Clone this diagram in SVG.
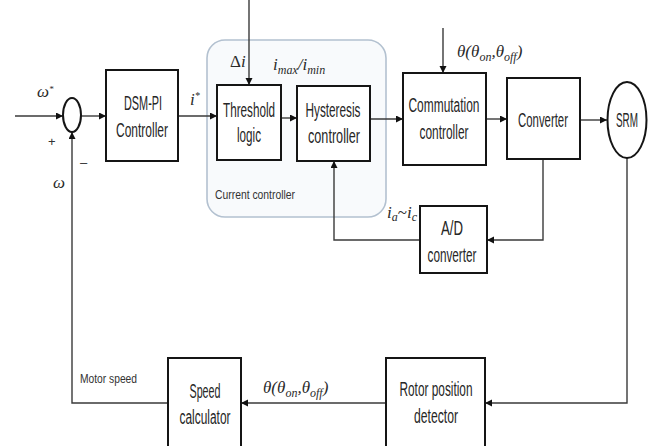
<svg xmlns="http://www.w3.org/2000/svg" width="651" height="446" viewBox="0 0 651 446">
  <style>
    .box { fill: #ffffff; stroke: #151515; stroke-width: 2; }
    .lbl { font-family: "Liberation Sans", Arial, sans-serif; font-size: 20px; fill: #262626; text-anchor: middle; }
    .small { font-family: "Liberation Sans", Arial, sans-serif; font-size: 13px; fill: #333; }
    .math { font-family: "Liberation Serif", "Times New Roman", serif; font-size: 17px; fill: #2a2a2a; }
    .it { font-style: italic; }
    .wire { fill: none; stroke: #3a3a3a; stroke-width: 1.4; }
  </style>
  <defs>
    <marker id="arrow" markerUnits="userSpaceOnUse" markerWidth="8" markerHeight="8" refX="7" refY="3.5" orient="auto">
      <path d="M0,0 L7,3.5 L0,7 z" fill="#111"/>
    </marker>
  </defs>

  <rect width="651" height="446" fill="#ffffff"/>

  <!-- current controller grouping -->
  <g id="current-controller">
    <rect x="207" y="40" width="179" height="177" rx="18" fill="#f8fafc" stroke="#b3c1d0" stroke-width="1.6"/>
    <text class="small" x="215" y="199" textLength="80" lengthAdjust="spacingAndGlyphs">Current controller</text>
  </g>

  <!-- connectors -->
  <g id="connectors">
    <line class="wire" x1="15" y1="116" x2="63" y2="116" marker-end="url(#arrow)"/>
    <line class="wire" x1="81" y1="116" x2="106" y2="116" marker-end="url(#arrow)"/>
    <line class="wire" x1="178" y1="116" x2="217" y2="116" marker-end="url(#arrow)"/>
    <line class="wire" x1="249" y1="0" x2="249" y2="85" marker-end="url(#arrow)"/>
    <line class="wire" x1="281" y1="118" x2="297" y2="118" marker-end="url(#arrow)"/>
    <line class="wire" x1="370" y1="119" x2="403" y2="119" marker-end="url(#arrow)"/>
    <line class="wire" x1="443" y1="28" x2="443" y2="73" marker-end="url(#arrow)"/>
    <line class="wire" x1="486" y1="119" x2="507" y2="119" marker-end="url(#arrow)"/>
    <line class="wire" x1="580" y1="120" x2="607" y2="120" marker-end="url(#arrow)"/>
    <polyline class="wire" points="543,159 543,240 487,240" marker-end="url(#arrow)"/>
    <polyline class="wire" points="420,240 334,240 334,161" marker-end="url(#arrow)"/>
    <polyline class="wire" points="627,158 627,403 485,403" marker-end="url(#arrow)"/>
    <line class="wire" x1="386" y1="403" x2="241" y2="403" marker-end="url(#arrow)"/>
    <polyline class="wire" points="168,403 72,403 72,132" marker-end="url(#arrow)"/>
  </g>

  <!-- summing junction -->
  <g id="sum">
    <ellipse cx="72" cy="115" rx="9" ry="17" fill="#fff" stroke="#151515" stroke-width="2"/>
    <text class="math it" x="37" y="97" font-size="13" fill="#555">ω<tspan font-size="9" dy="-5">*</tspan></text>
    <text class="small" x="48" y="146" font-size="12" fill="#555">+</text>
    <text class="small" x="80" y="167" font-size="13" fill="#555">–</text>
    <text class="math it" x="53" y="188" font-size="13" fill="#555">ω</text>
  </g>

  <g id="dsm-pi">
    <rect class="box" x="106" y="70" width="72" height="91"/>
    <text class="lbl" x="143" y="110" textLength="38" lengthAdjust="spacingAndGlyphs">DSM-PI</text>
    <text class="lbl" x="142" y="137" textLength="52" lengthAdjust="spacingAndGlyphs">Controller</text>
    <text class="math it" x="190" y="105">i<tspan font-size="10" dy="-6">*</tspan></text>
  </g>

  <g id="threshold">
    <rect class="box" x="217" y="85" width="64" height="75"/>
    <text class="lbl" x="249" y="117" textLength="52" lengthAdjust="spacingAndGlyphs">Threshold</text>
    <text class="lbl" x="249" y="142" textLength="24" lengthAdjust="spacingAndGlyphs">logic</text>
    <text class="math" x="230" y="67" font-size="16">Δ<tspan class="it">i</tspan></text>
  </g>

  <g id="hysteresis">
    <rect class="box" x="297" y="86" width="73" height="75"/>
    <text class="lbl" x="333" y="117" textLength="55" lengthAdjust="spacingAndGlyphs">Hysteresis</text>
    <text class="lbl" x="334" y="143" textLength="52" lengthAdjust="spacingAndGlyphs">controller</text>
    <text class="math it" x="273" y="70">i<tspan font-size="12" dy="4">max</tspan><tspan dy="-4">/i</tspan><tspan font-size="12" dy="4">min</tspan></text>
  </g>

  <g id="commutation">
    <rect class="box" x="403" y="73" width="83" height="92"/>
    <text class="lbl" x="444" y="112" textLength="71" lengthAdjust="spacingAndGlyphs">Commutation</text>
    <text class="lbl" x="444" y="139" textLength="49" lengthAdjust="spacingAndGlyphs">controller</text>
    <text class="math it" x="457" y="57">θ(θ<tspan font-size="12" dy="4">on</tspan><tspan dy="-4">,θ</tspan><tspan font-size="12" dy="4">off</tspan><tspan dy="-4">)</tspan></text>
  </g>

  <g id="converter">
    <rect class="box" x="507" y="78" width="73" height="81"/>
    <text class="lbl" x="543" y="127" textLength="50" lengthAdjust="spacingAndGlyphs">Converter</text>
  </g>

  <g id="srm">
    <ellipse cx="627" cy="120" rx="19.5" ry="38" fill="#fff" stroke="#151515" stroke-width="2"/>
    <text class="lbl" x="627" y="127" textLength="22" lengthAdjust="spacingAndGlyphs">SRM</text>
  </g>

  <g id="ad-converter">
    <rect class="box" x="420" y="206" width="67" height="67"/>
    <text class="lbl" x="452" y="235" textLength="22" lengthAdjust="spacingAndGlyphs">A/D</text>
    <text class="lbl" x="452" y="262" textLength="49" lengthAdjust="spacingAndGlyphs">converter</text>
    <text class="math it" x="387" y="218">i<tspan font-size="12" dy="3">a</tspan><tspan dy="-3" font-style="normal">~</tspan>i<tspan font-size="12" dy="3">c</tspan></text>
  </g>

  <g id="rotor-position">
    <rect class="box" x="386" y="358" width="99" height="100"/>
    <text class="lbl" x="436" y="396" textLength="73" lengthAdjust="spacingAndGlyphs">Rotor position</text>
    <text class="lbl" x="436" y="423" textLength="44" lengthAdjust="spacingAndGlyphs">detector</text>
  </g>

  <g id="speed-calculator">
    <rect class="box" x="168" y="358" width="73" height="100"/>
    <text class="lbl" x="205" y="398" textLength="31" lengthAdjust="spacingAndGlyphs">Speed</text>
    <text class="lbl" x="205" y="424" textLength="51" lengthAdjust="spacingAndGlyphs">calculator</text>
    <text class="math it" x="263" y="393">θ(θ<tspan font-size="12" dy="4">on</tspan><tspan dy="-4">,θ</tspan><tspan font-size="12" dy="4">off</tspan><tspan dy="-4">)</tspan></text>
    <text class="small" x="80" y="383" textLength="57" lengthAdjust="spacingAndGlyphs">Motor speed</text>
  </g>
</svg>
